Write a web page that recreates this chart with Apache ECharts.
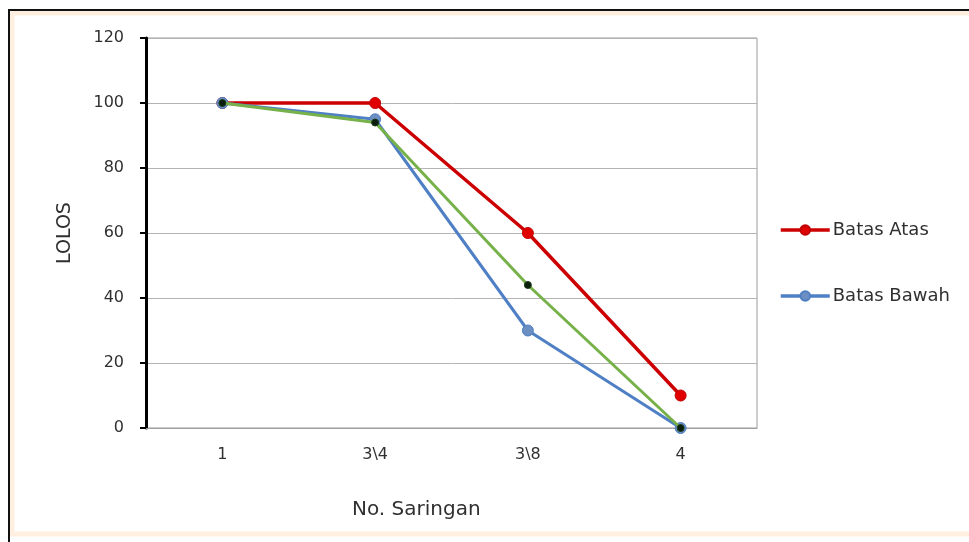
<!DOCTYPE html>
<html>
<head>
<meta charset="utf-8">
<script src="https://cdn.jsdelivr.net/npm/echarts@6/dist/echarts.min.js"></script>
<style>
html,body{margin:0;padding:0;background:#fff;}
#c{width:969px;height:542px;}
</style>
</head>
<body>
<div id="c"></div>
<script>
var categories = ['1', '3\\4', '3\\8', '4'];
var batasAtas = [100, 100, 60, 10];
var batasBawah = [100, 95, 30, 0];
var hasil = [100, 94, 44, 0];
var yTicks = [0, 20, 40, 60, 80, 100, 120];

var chart = echarts.init(document.getElementById('c'));
var FONT = 'DejaVu Sans';
chart.setOption({
  backgroundColor: '#ffffff',
  animation: false,
  graphic: [
    { type: 'rect', shape: { x: 12, y: 13, width: 1000, height: 521 },
      style: { fill: 'none', stroke: 'rgba(250,190,130,0.25)', lineWidth: 5 }, silent: true, z: -10 },
    { type: 'rect', shape: { x: 9, y: 10, width: 1000, height: 600 },
      style: { fill: 'none', stroke: '#111', lineWidth: 2 }, silent: true, z: -9 },
    { type: 'text', left: 352, top: 500,
      style: { text: 'No. Saringan', font: '20px "DejaVu Sans"', fill: '#303030' } }
  ],
  grid: { left: 146, top: 38, width: 611, height: 390, show: true, borderColor: '#9a9a9a', borderWidth: 1, backgroundColor: 'transparent' },
  legend: {
    data: [
      { name: 'Batas Atas', lineStyle: { width: 3.5 } },
      { name: 'Batas Bawah', lineStyle: { width: 3.5 } }
    ],
    orient: 'vertical',
    left: 779, top: 221, padding: 0,
    itemWidth: 49, itemHeight: 12, itemGap: 48,
    textStyle: { fontFamily: FONT, fontSize: 18, color: '#303030', padding: [0, 0, 0, -2] }
  },
  xAxis: {
    type: 'category',
    data: categories,
    boundaryGap: true,
    axisLine: { show: true, lineStyle: { color: '#a0a0a0', width: 1 } },
    axisTick: { show: false },
    axisLabel: { margin: 19, fontFamily: FONT, fontSize: 16, color: '#303030' }
  },
  yAxis: {
    type: 'value', min: 0, max: 120, interval: 20,
    name: 'LOLOS', nameLocation: 'middle', nameGap: 71,
    nameTextStyle: { fontFamily: FONT, fontSize: 19, color: '#303030' },
    axisLine: { show: true, lineStyle: { color: '#000', width: 3 } },
    axisTick: { show: true, inside: false, length: 6, lineStyle: { color: '#000', width: 2 } },
    axisLabel: { margin: 22, fontFamily: FONT, fontSize: 16, color: '#303030',
      formatter: function (v) { return yTicks.indexOf(v) >= 0 ? String(v) : ''; } },
    splitLine: { show: true, lineStyle: { color: '#b4b4b4', width: 1 } }
  },
  series: [
    { name: 'Batas Atas', type: 'line', data: batasAtas, symbol: 'circle', symbolSize: 11,
      lineStyle: { color: '#cc0000', width: 3.5 }, itemStyle: { color: '#e00000', borderColor: '#c00000', borderWidth: 1 }, z: 2 },
    { name: 'Batas Bawah', type: 'line', data: batasBawah, symbol: 'circle', symbolSize: 11,
      lineStyle: { color: '#4f7fc4', width: 3 }, itemStyle: { color: '#6b8fc0', borderColor: '#4f7fc4', borderWidth: 1 }, z: 3 },
    { name: 'Hasil', type: 'line', data: hasil, symbol: 'circle', symbolSize: 7,
      lineStyle: { color: '#77b14a', width: 3 }, itemStyle: { color: '#0a1f0a', borderColor: '#1c3a1c', borderWidth: 1 }, z: 4 }
  ]
});
</script>
</body>
</html>
